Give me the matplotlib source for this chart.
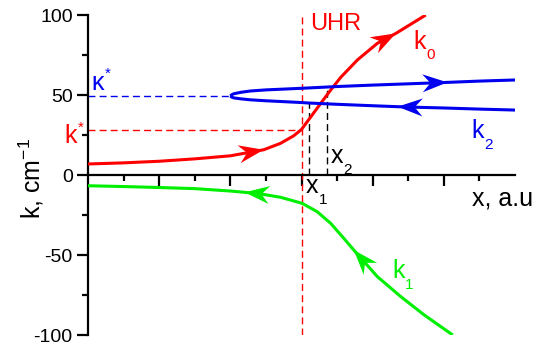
import matplotlib
matplotlib.use("Agg")
import matplotlib.pyplot as plt
import numpy as np

plt.rcParams["font.family"] = ["Liberation Sans", "DejaVu Sans"]
plt.rcParams["mathtext.fontset"] = "custom"
plt.rcParams["mathtext.rm"] = "Liberation Sans"
plt.rcParams["mathtext.it"] = "Liberation Sans:italic"
plt.rcParams["axes.unicode_minus"] = False

# k0 branch (red)
k0_x = [0, 1, 2, 3, 4, 4.94, 5.41, 5.78, 6.0, 6.25, 6.54, 6.82, 7.1, 7.57, 8.13, 8.65, 9.49]
k0_y = [6.9, 7.6, 8.6, 10.1, 12.0, 15.8, 19.8, 24.5, 28.5, 36, 44.8, 53.1, 61, 71.9, 82.3, 88.5, 100]
k0_arrows = [5, 15]  # index of the arrow tip

# k1 branch (green), drawn in the direction of travel
k1_x = [10.25, 9.45, 8.79, 8.13, 7.47, 7.19, 6.82, 6.44, 6.02, 5.41, 4.9, 4.4, 4.0, 3.0, 2.0, 1.0, 0]
k1_y = [-100, -87.5, -76, -63.5, -46.9, -39.6, -30.2, -22.9, -17.7, -13.9, -12.0, -10.8, -10.0, -8.5, -7.8, -7.2, -6.7]
k1_arrows = [4, 11]

# k2 branch (blue): upper part going out, lower part coming back
k2_up_x = [4.0, 4.05, 4.1, 4.3, 4.56, 5, 6, 7, 8, 9, 10.1, 11, 12]
k2_up_y = [49.4, 50.3, 50.8, 51.7, 52.5, 53.2, 54.2, 55.3, 56.2, 57.0, 57.9, 58.7, 59.4]
k2_lo_x = [12, 11, 10, 9.3, 8.7, 8, 7, 6.2, 6, 5, 4.56, 4.3, 4.1, 4.05, 4.0]
k2_lo_y = [40.6, 41.2, 41.9, 42.3, 42.7, 43.3, 44.2, 45.0, 45.3, 46.4, 47.0, 47.6, 48.2, 48.6, 49.4]
k2_up_arrows = [10]
k2_lo_arrows = [4]

x_uhr = 6.0
k_star = 28
kappa_star = 49.4
x_nose = 4.0
x_marks = [6.2, 6.73]
x_mark_tops = [45.0, 55.6]

RED, GREEN, BLUE = "#ff0000", "#00ee00", "#0000ee"
DASH = (0, (5, 3))

fig = plt.figure(figsize=(5.36, 3.49), dpi=100)
ax = fig.add_axes([0.164, 0.040, 0.797, 0.917])
ax.set_xlim(0, 12)
ax.set_ylim(-100, 100)


def arrow_head(x0, y0, x1, y1, color, length=25, half=9, notch=8):
    # dart-shaped head in pixel space, tip at (x1, y1)
    tr = ax.transData
    p0 = np.array(tr.transform((x0, y0)))
    p1 = np.array(tr.transform((x1, y1)))
    u = (p1 - p0) / np.hypot(*(p1 - p0))
    n = np.array([-u[1], u[0]])
    pts = [p1, p1 - length * u + half * n, p1 - (length - notch) * u, p1 - length * u - half * n]
    pts = tr.inverted().transform(np.array(pts))
    ax.fill(pts[:, 0], pts[:, 1], color=color, lw=0, zorder=4)


def curve(x, y, color, arrows):
    ax.plot(x, y, color=color, lw=2.2, solid_capstyle="butt", zorder=3)
    for i in arrows:
        arrow_head(x[i - 1], y[i - 1], x[i], y[i], color)


# guide lines
ax.plot([x_uhr, x_uhr], [-100, 100], color=RED, lw=1.0, ls=DASH, zorder=2)
ax.plot([0, x_uhr], [k_star, k_star], color=RED, lw=1.0, ls=DASH, zorder=2)
ax.plot([0, x_nose], [kappa_star, kappa_star], color=BLUE, lw=1.0, ls=DASH, zorder=2)
for xm, top in zip(x_marks, x_mark_tops):
    ax.plot([xm, xm], [0, top], color="black", lw=1.0, ls=DASH, zorder=2)

curve(k0_x, k0_y, RED, k0_arrows)
curve(k1_x, k1_y, GREEN, k1_arrows)
curve(k2_up_x, k2_up_y, BLUE, k2_up_arrows)
curve(k2_lo_x, k2_lo_y, BLUE, k2_lo_arrows)

for s in ["top", "right"]:
    ax.spines[s].set_visible(False)
ax.spines["bottom"].set_position(("data", 0))
for s in ["left", "bottom"]:
    ax.spines[s].set_linewidth(1.6)

ax.set_xticks([2, 4, 6, 8, 10])
ax.set_xticks([1, 3, 5, 7, 9, 11], minor=True)
ax.set_xticklabels([])
ax.set_yticks([-100, -50, 0, 50, 100])
ax.set_yticks([-75, -25, 25, 75], minor=True)
ax.tick_params(which="major", length=8, width=1.6, labelsize=14, direction="out")
ax.tick_params(which="minor", length=4.5, width=1.6, direction="out")
ax.tick_params(axis="y", pad=3)


def label(x, y, main, small, color, sup=False, size=18):
    ax.text(x, y, main, color=color, fontsize=size, va="baseline", ha="left", clip_on=False)
    dy = 8.5 if sup else -7.5
    ax.annotate(small, xy=(x, y), xytext=(size * 0.52, dy), textcoords="offset points",
                color=color, fontsize=11, va="baseline", ha="left", annotation_clip=False)


ax.text(6.25, 94.4, "UHR", color=RED, fontsize=17, va="center", ha="left")
label(9.15, 79, "k", "0", RED)
label(10.76, 23, "k", "2", BLUE)
label(8.54, -64.6, "k", "1", GREEN)
label(6.11, -11.5, "x", "1", "black")
label(6.82, 7.3, "x", "2", "black")
label(0.1, 53.1, "κ", "*", BLUE, sup=True)
label(-0.65, 19.8, "k", "*", RED, sup=True)
ax.text(10.8, -14.4, "x, a.u", fontsize=18, va="center", ha="left", clip_on=False)
fig.text(0.058, 0.49, r"k, cm$\mathregular{^{-1}}$", fontsize=18, rotation=90, va="center", ha="center")

fig.savefig("out.png", dpi=100)
